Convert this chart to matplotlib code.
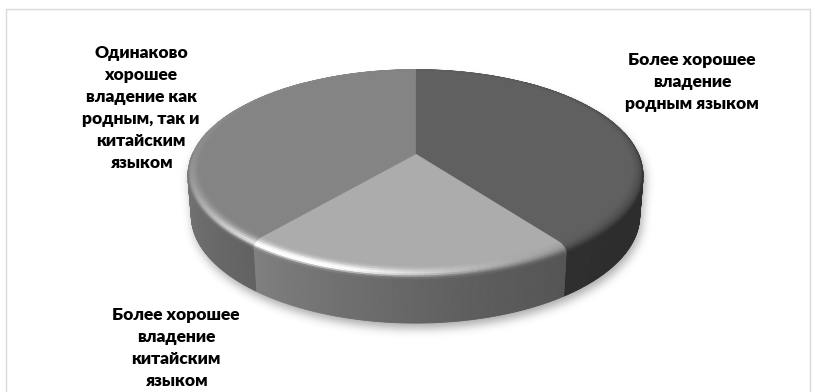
import numpy as np
import matplotlib
matplotlib.use("Agg")
import matplotlib.pyplot as plt
from matplotlib.collections import PolyCollection
from matplotlib.patches import Rectangle
from matplotlib.path import Path

# Survey answers (percent of respondents), clockwise from 12 o'clock
categories = [
    "Более хорошее\nвладение\nродным языком",
    "Более хорошее\nвладение\nкитайским\nязыком",
    "Одинаково\nхорошее\nвладение как\nродным, так и\nкитайским\nязыком",
]
shares = [40, 21, 39]
slice_grays = [92, 168, 128]

# label anchors in pixel coordinates
label_pos = [(692, 82), (176, 348), (141, 108)]

W, H, DPI = 815, 392, 100

# perspective camera for the 3-D pie
ELEV = np.radians(26.4)
DIST = 5.91
SCALE = 1333.0
CX, CY = 415.5, 154.0
DEPTH = 0.228
BEV_W, BEV_V = 0.05, 0.03
R0 = 1.0 - BEV_W

ce, se = np.cos(ELEV), np.sin(ELEV)
CAM = np.array([0.0, -DIST * ce, DIST * se])


def project(x, y, z):
    vy = y + DIST * ce
    vz = z - DIST * se
    yc = vy * se + vz * ce
    zc = vy * ce - vz * se
    return CX + SCALE * np.asarray(x) / zc, CY - SCALE * yc / zc


L_DIFF = np.array([-0.20, 0.12, 0.28])
AMB = 0.72
H_SPEC = np.array([-0.3, -0.6, 0.75])
H_SPEC /= np.linalg.norm(H_SPEC)


def shade(base, n):
    n = np.asarray(n, float)
    d = AMB + n @ L_DIFF
    s = 0.48 * np.clip(n @ H_SPEC, 0, None) ** 12
    g = float(np.clip(base / 255.0 * d + s, 0, 1))
    return (g, g, g)


def pt(r, phi_deg, z):
    p = np.radians(phi_deg)
    return project(r * np.sin(p), r * np.cos(p), z)


fig = plt.figure(figsize=(W / DPI, H / DPI), dpi=DPI)
ax = fig.add_axes([0, 0, 1, 1])
ax.set_xlim(0, W)
ax.set_ylim(H, 0)
ax.axis("off")

# chart-area frame
ax.add_patch(Rectangle((6, 9), 804, 400, fill=False, edgecolor="#d9d9d9", lw=1.0, zorder=0))

bounds = np.concatenate([[0.0], 360.0 * np.cumsum(shares) / np.sum(shares)])

# --- soft drop shadow under the pie
ang = np.linspace(0, 360, 361)
sil = np.concatenate([np.column_stack(pt(1.0, ang, -BEV_V)), np.column_stack(pt(1.0, ang, -DEPTH))])


def hull(points):
    pts = sorted(map(tuple, points))
    def cross(o, a, b):
        return (a[0] - o[0]) * (b[1] - o[1]) - (a[1] - o[1]) * (b[0] - o[0])
    lower, upper = [], []
    for p in pts:
        while len(lower) >= 2 and cross(lower[-2], lower[-1], p) <= 0:
            lower.pop()
        lower.append(p)
    for p in reversed(pts):
        while len(upper) >= 2 and cross(upper[-2], upper[-1], p) <= 0:
            upper.pop()
        upper.append(p)
    return np.array(lower[:-1] + upper[:-1])


shape = Path(hull(sil))
gx, gy = np.meshgrid(np.arange(W) + 0.5, np.arange(H) + 0.5)
grid = np.column_stack([gx.ravel() - 2.0, gy.ravel() - 5.0])
mask = shape.contains_points(grid).reshape(H, W).astype(float)
sig = 5.0
k = np.arange(-15, 16)
kern = np.exp(-k ** 2 / (2 * sig ** 2))
kern /= kern.sum()
mask = np.apply_along_axis(lambda v: np.convolve(v, kern, mode="same"), 1, mask)
mask = np.apply_along_axis(lambda v: np.convolve(v, kern, mode="same"), 0, mask)
rgba = np.zeros((H, W, 4))
rgba[..., 3] = mask * 0.35
ax.imshow(rgba, extent=[0, W, H, 0], zorder=1, interpolation="bilinear")

# --- visible side wall
phi_lim = np.degrees(np.arccos(-1.0 / (DIST * ce)))
side_polys, side_cols = [], []
for (a0, a1), g in zip(zip(bounds[:-1], bounds[1:]), slice_grays):
    lo, hi = max(a0, phi_lim), min(a1, 360 - phi_lim)
    if lo >= hi:
        continue
    ph = np.linspace(lo, hi, int((hi - lo) * 2) + 2)
    for p0, p1 in zip(ph[:-1], ph[1:]):
        xa, ya = pt(1.0, p0, -BEV_V)
        xb, yb = pt(1.0, p1, -BEV_V)
        xc_, yc_ = pt(1.0, p1, -DEPTH)
        xd, yd = pt(1.0, p0, -DEPTH)
        side_polys.append([(xa, ya), (xb, yb), (xc_, yc_), (xd, yd)])
        m = np.radians(0.5 * (p0 + p1))
        side_cols.append(shade(g, [np.sin(m), np.cos(m), 0.0]))
ax.add_collection(PolyCollection(side_polys, facecolors=side_cols, edgecolors=side_cols,
                                 linewidths=0.6, zorder=2))

# --- flat top faces
top_polys, top_cols = [], []
for (a0, a1), g in zip(zip(bounds[:-1], bounds[1:]), slice_grays):
    ph = np.linspace(a0, a1, int((a1 - a0) * 2) + 2)
    xs, ys = pt(R0, ph, 0.0)
    top_polys.append([project(0.0, 0.0, 0.0)] + list(zip(xs, ys)))
    top_cols.append(shade(g, [0, 0, 1]))
ax.add_collection(PolyCollection(top_polys, facecolors=top_cols, edgecolors=top_cols,
                                 linewidths=0.5, zorder=3))

# --- rounded rim (bevel)
NB = 8
th = np.linspace(0, np.pi / 2, NB + 1)
bev_polys, bev_cols = [], []
for (a0, a1), g in zip(zip(bounds[:-1], bounds[1:]), slice_grays):
    ph = np.linspace(a0, a1, int((a1 - a0) / 1.5) + 2)
    for t0, t1 in zip(th[:-1], th[1:]):
        r0_, r1_ = R0 + BEV_W * np.sin(t0), R0 + BEV_W * np.sin(t1)
        z0_, z1_ = -BEV_V * (1 - np.cos(t0)), -BEV_V * (1 - np.cos(t1))
        tm = 0.5 * (t0 + t1)
        nr, nz = BEV_V * np.sin(tm), BEV_W * np.cos(tm)
        nn = np.hypot(nr, nz)
        nr, nz = nr / nn, nz / nn
        for p0, p1 in zip(ph[:-1], ph[1:]):
            m = np.radians(0.5 * (p0 + p1))
            n = np.array([nr * np.sin(m), nr * np.cos(m), nz])
            rm = 0.5 * (r0_ + r1_)
            P = np.array([rm * np.sin(m), rm * np.cos(m), 0.5 * (z0_ + z1_)])
            if np.dot(CAM - P, n) <= 0:
                continue
            q = [pt(r0_, p0, z0_), pt(r0_, p1, z0_), pt(r1_, p1, z1_), pt(r1_, p0, z1_)]
            bev_polys.append(q)
            bev_cols.append(shade(g, n))
ax.add_collection(PolyCollection(bev_polys, facecolors=bev_cols, edgecolors=bev_cols,
                                 linewidths=0.5, zorder=4))

# --- category labels
for text, (lx, ly) in zip(categories, label_pos):
    ax.text(lx, ly, text, ha="center", va="center", multialignment="center",
            fontsize=12.5, fontweight="heavy", family=["Lato", "DejaVu Sans"],
            color="#000000", linespacing=1.45, zorder=6)

fig.savefig("out.png", dpi=DPI)
